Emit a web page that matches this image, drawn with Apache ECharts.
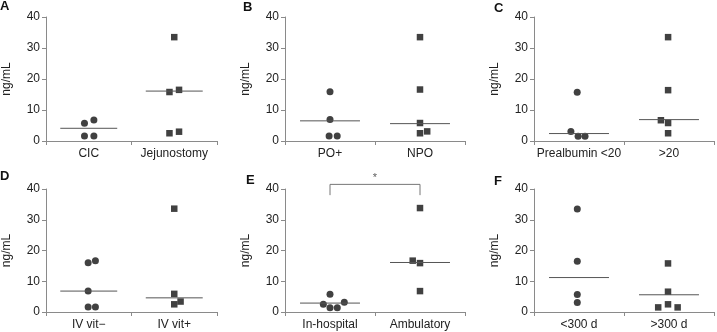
<!DOCTYPE html>
<html>
<head>
<meta charset="utf-8">
<style>
  html, body { margin: 0; padding: 0; background: #fff; }
  #chart { width: 717px; height: 332px; }
</style>
<script src="https://cdn.jsdelivr.net/npm/echarts@6/dist/echarts.min.js"></script>
</head>
<body>
<div id="chart"></div>
<script>
// values (ng/mL)
const yTicks = [0, 10, 20, 30, 40]

const labelsA = ['CIC', 'Jejunostomy']
const circlesA = [5.7, 6.8, 1.6, 1.6]
const squaresA = [33.5, 15.8, 16.5, 2.5, 3.0]
const mediansA = [4.1, 16.1]

const labelsB = ['PO+', 'NPO']
const circlesB = [15.9, 6.9, 1.6, 1.6]
const squaresB = [33.5, 16.6, 5.8, 2.5, 3.1]
const mediansB = [6.5, 5.6]

const labelsC = ['Prealbumin <20', '>20']
const circlesC = [15.7, 3.1, 1.5, 1.5]
const squaresC = [33.5, 16.4, 6.7, 5.8, 2.5]
const mediansC = [2.4, 6.9]

const labelsD = ['IV vit\u2212', 'IV vit+']
const circlesD = [16.0, 16.7, 6.8, 1.6, 1.6]
const squaresD = [33.6, 5.9, 2.5, 3.4]
const mediansD = [6.8, 4.6]

const labelsE = ['In-hospital', 'Ambulatory']
const circlesE = [5.8, 2.5, 1.4, 1.4, 3.2]
const squaresE = [33.8, 16.7, 15.9, 6.8]
const mediansE = [2.9, 16.1]
const signifE = '*'

const labelsF = ['<300 d', '>300 d']
const circlesF = [33.5, 16.5, 5.7, 3.1]
const squaresF = [15.8, 6.6, 2.5, 1.5, 1.5]
const mediansF = [11.2, 5.6]

// horizontal jitter of the dots inside a group (category units)
const jitter = [
  [[-0.05, 0.06, -0.05, 0.06], [0, -0.056, 0.056, -0.056, 0.056]],
  [[0, 0, -0.01, 0.08], [0, 0, 0, 0, 0.08]],
  [[-0.02, -0.09, -0.01, 0.067], [-0.01, -0.01, -0.09, -0.01, -0.01]],
  [[-0.007, 0.078, -0.007, -0.007, 0.078], [0, 0, 0, 0.074]],
  [[0, -0.074, 0, 0.081, 0.159], [0, -0.081, 0, 0]],
  [[-0.019, -0.019, -0.019, -0.019], [-0.011, -0.011, -0.011, -0.12, 0.096]]
]

const panels = [
  { letter: 'A', labels: labelsA, circles: circlesA, squares: squaresA, medians: mediansA },
  { letter: 'B', labels: labelsB, circles: circlesB, squares: squaresB, medians: mediansB },
  { letter: 'C', labels: labelsC, circles: circlesC, squares: squaresC, medians: mediansC },
  { letter: 'D', labels: labelsD, circles: circlesD, squares: squaresD, medians: mediansD },
  { letter: 'E', labels: labelsE, circles: circlesE, squares: squaresE, medians: mediansE },
  { letter: 'F', labels: labelsF, circles: circlesF, squares: squaresF, medians: mediansF }
]

const grids = [
  { left: 36, top: 17, width: 181, height: 124 },
  { left: 285, top: 17, width: 180, height: 124 },
  { left: 534, top: 17, width: 180, height: 124 },
  { left: 36, top: 189, width: 181, height: 123 },
  { left: 285, top: 189, width: 180, height: 123 },
  { left: 534, top: 189, width: 180, height: 123 }
]
const letterPos = [
  { left: 0, top: 0 }, { left: 243, top: 1 }, { left: 494, top: 2 },
  { left: 0, top: 170 }, { left: 246, top: 174 }, { left: 494, top: 175 }
]

const FONT = '"Liberation Sans", Arial, sans-serif'
const AXIS = '#8a8a8a'
const TEXT = '#222'
const MARK = '#111'
const MEDIAN = '#555'
const HALF = 0.333

const xAxes = []
const yAxes = []
const series = []
const titles = []

panels.forEach((p, i) => {
  titles.push({
    text: p.letter, left: letterPos[i].left, top: letterPos[i].top, padding: 0,
    textStyle: { fontFamily: FONT, fontSize: 13, fontWeight: 'bold', color: '#111' }
  })

  xAxes.push({
    type: 'category', gridIndex: i, data: p.labels, boundaryGap: true,
    axisLine: { lineStyle: { color: AXIS, width: 1 } },
    axisTick: { show: true, length: 4, lineStyle: { color: AXIS } },
    axisLabel: { color: TEXT, fontSize: 12, fontFamily: FONT, margin: 7, interval: 0 }
  })
  xAxes.push({ type: 'value', gridIndex: i, min: 0, max: 2, show: false })

  yAxes.push({
    type: 'value', gridIndex: i, min: yTicks[0], max: yTicks[yTicks.length - 1], interval: 10,
    name: 'ng/mL', nameLocation: 'middle', nameGap: 33, nameRotate: 90,
    nameTextStyle: { color: TEXT, fontSize: 12, fontFamily: FONT },
    axisLine: { show: true, lineStyle: { color: AXIS, width: 1 } },
    axisTick: { show: true, length: 4, lineStyle: { color: AXIS } },
    axisLabel: { color: TEXT, fontSize: 12, fontFamily: FONT, margin: 6 },
    splitLine: { show: false }
  })

  const xi = i * 2 + 1
  const groups = [p.circles, p.squares]
  groups.forEach((vals, g) => {
    series.push({
      type: 'scatter', xAxisIndex: xi, yAxisIndex: i,
      symbol: g === 0 ? 'circle' : 'rect',
      symbolSize: g === 0 ? 7 : 6.5,
      itemStyle: { color: MARK },
      data: vals.map((v, k) => [g + 0.5 + jitter[i][g][k], v])
    })
    series.push({
      type: 'line', xAxisIndex: xi, yAxisIndex: i,
      symbol: 'none',
      lineStyle: { color: MEDIAN, width: 1 },
      data: [[g + 0.5 - HALF, p.medians[g]], [g + 0.5 + HALF, p.medians[g]]]
    })
  })
})

// significance bracket in panel E
series.push({
  type: 'line', xAxisIndex: 9, yAxisIndex: 4, clip: false,
  symbol: 'none', lineStyle: { color: '#777', width: 1 },
  data: [[0.5, 38], [0.5, 41.5], [1.5, 41.5], [1.5, 38]]
})
series.push({
  type: 'scatter', xAxisIndex: 9, yAxisIndex: 4, clip: false,
  symbolSize: 1, itemStyle: { color: 'rgba(0,0,0,0)' },
  label: { show: true, position: 'inside', formatter: signifE, color: '#333', fontSize: 11, fontFamily: FONT },
  data: [[1, 43.5]]
})

const chart = echarts.init(document.getElementById('chart'))
chart.setOption({
  animation: false,
  backgroundColor: '#fff',
  title: titles,
  grid: grids,
  xAxis: xAxes,
  yAxis: yAxes,
  series
})
</script>
</body>
</html>
